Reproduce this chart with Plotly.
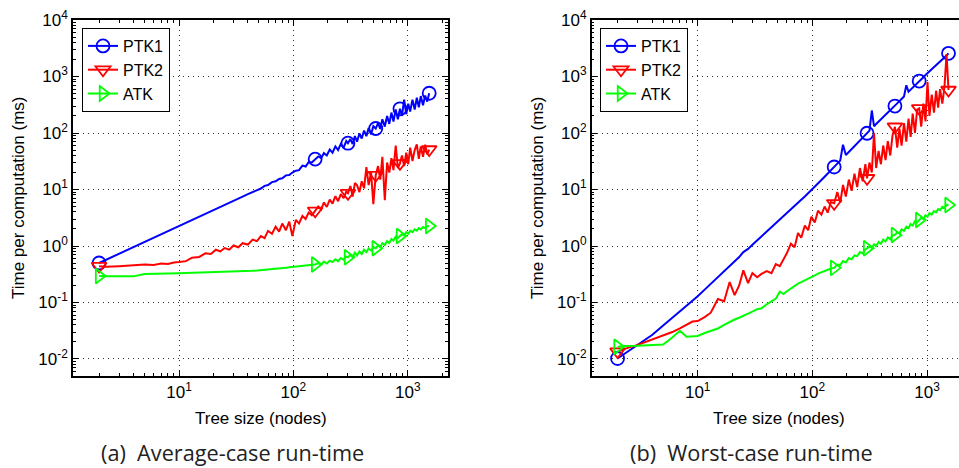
import plotly.graph_objects as go

W, H = 959, 468

# ---------------- data ----------------
tree_size = [2, 2.3, 3, 4, 5, 6, 7, 8, 9, 10,
             11.5, 13, 15, 17, 19, 21, 23, 25, 27.5, 30,
             33, 36, 40, 44, 48, 52, 56, 60, 65, 70,
             75, 80, 86, 92, 98, 105, 112, 120, 128, 136,
             145, 155, 165, 175, 185, 196, 208, 220, 233, 246,
             260, 275, 290, 300, 315, 330, 345, 360, 378, 396,
             415, 435, 455, 478, 500, 525, 550, 575, 600, 630,
             660, 690, 720, 750, 785, 820, 855, 890, 930, 970,
             1010, 1050, 1100, 1150, 1200, 1250, 1300, 1360, 1420, 1480,
             1540]
marker_sizes = [2, 155, 300, 525, 855, 1540]

avg_ptk1 = [0.50, 0.57, 0.73, 0.95, 1.16, 1.38, 1.59, 1.79, 2.0, 2.19,
            2.5, 2.81, 3.23, 3.64, 4.06, 4.46, 4.87, 5.27, 5.77, 6.28,
            6.89, 7.48, 8.3, 9.0, 10.0, 10.4, 11.6, 12.0, 13.5, 14.0,
            15.4, 15.8, 17.8, 18.0, 20.0, 21.5, 22.0, 26.5, 25.5, 30.5,
            30.0, 34.5, 38.5, 36.0, 44, 40, 51, 45, 58, 50,
            64, 55, 72, 66, 78, 64, 88, 70, 98, 80,
            110, 88, 122, 95, 132, 120, 150, 118, 175, 130,
            200, 145, 230, 160, 260, 175, 268, 200, 390, 215,
            330, 240, 390, 260, 420, 285, 450, 310, 460, 360,
            505]
avg_ptk2 = [0.44, 0.43, 0.44, 0.45, 0.47, 0.46, 0.49, 0.48, 0.51, 0.52,
            0.54, 0.62, 0.64, 0.74, 0.72, 0.86, 0.80, 0.92, 0.86, 1.02,
            0.95, 1.12, 1.06, 1.3, 1.22, 1.5, 1.38, 1.85, 1.65, 2.2,
            1.8, 2.5, 1.9, 2.7, 1.5, 2.9, 2.5, 3.4, 3.0, 3.9,
            3.5, 4.2, 5.0, 4.4, 5.9, 4.9, 6.6, 5.6, 7.6, 6.2,
            8.3, 7.0, 9.2, 8.6, 11.5, 7.5, 13, 12, 9.0, 14,
            10.5, 25, 12, 20, 5.5, 18, 26, 15, 38, 6.5,
            30, 20, 36, 22, 60, 24, 29, 40, 26, 45,
            28, 55, 32, 50, 63, 35, 58, 38, 62, 42,
            51]
avg_atk = [0.295, 0.29, 0.29, 0.29, 0.32, 0.325, 0.325, 0.33, 0.33, 0.33,
           0.332, 0.334, 0.336, 0.338, 0.34, 0.342, 0.344, 0.346, 0.348, 0.35,
           0.353, 0.356, 0.36, 0.364, 0.368, 0.372, 0.376, 0.38, 0.385, 0.39,
           0.395, 0.40, 0.41, 0.42, 0.425, 0.43, 0.435, 0.44, 0.45, 0.455,
           0.46, 0.47, 0.50, 0.47, 0.53, 0.49, 0.55, 0.52, 0.58, 0.54,
           0.61, 0.57, 0.65, 0.63, 0.70, 0.63, 0.76, 0.68, 0.80, 0.72,
           0.86, 0.78, 0.90, 0.83, 0.95, 0.91, 1.02, 0.95, 1.12, 1.04,
           1.22, 1.13, 1.33, 1.25, 1.46, 1.38, 1.5, 1.62, 1.53, 1.75,
           1.65, 1.86, 1.76, 1.98, 1.87, 2.08, 1.97, 2.17, 2.08, 2.24,
           2.26]

worst_ptk1 = [0.0102, 0.0124, 0.0179, 0.0266, 0.039, 0.0532, 0.069, 0.087, 0.106, 0.129,
              0.169, 0.213, 0.281, 0.356, 0.443, 0.535, 0.638, 0.78, 0.89, 1.05,
              1.26, 1.48, 1.80, 2.15, 2.53, 2.94, 3.37, 3.84, 4.47, 5.13,
              5.83, 6.58, 7.52, 8.55, 9.6, 11.1, 12.7, 14.7, 16.8, 19.1,
              21.9, 25, 28.6, 32.4, 62, 40.8, 46.2, 51.9, 58.4, 65.5,
              73.4, 82.3, 91.8, 99, 110, 250, 132, 144, 158, 175,
              191, 210, 230, 253, 278, 300, 333, 366, 400, 443,
              700, 537, 586, 640, 705, 771, 830, 896, 973, 1059,
              1140, 1228, 1340, 1462, 1581, 1713, 1845, 2013, 2178, 2357,
              2570]
worst_ptk2 = [0.0135, 0.0151, 0.0178, 0.0219, 0.0257, 0.030, 0.0347, 0.040, 0.046, 0.047,
              0.055, 0.066, 0.115, 0.105, 0.23, 0.135, 0.20, 0.37, 0.22, 0.33,
              0.28, 0.32, 0.36, 0.33, 0.48, 0.44, 0.58, 0.75, 1.1, 0.95,
              1.7, 1.4, 2.3, 1.9, 3.3, 2.6, 4.2, 3.6, 5.0, 3.9,
              6.0, 5.7, 9.0, 5.8, 12, 7.5, 15, 9.5, 19, 11,
              24, 14, 28, 15.8, 30, 20, 100, 24, 48, 28,
              60, 33, 72, 40, 90, 129, 55, 120, 60, 150,
              70, 180, 85, 220, 100, 260, 273, 130, 330, 160,
              800, 200, 480, 230, 560, 280, 600, 330, 650, 2500,
              577]
worst_atk = [0.0165, 0.017, 0.0172, 0.0175, 0.018, 0.024, 0.0316, 0.0248, 0.025, 0.0255,
             0.0288, 0.0316, 0.0347, 0.040, 0.0457, 0.050, 0.0537, 0.0575, 0.063, 0.069,
             0.076, 0.079, 0.093, 0.105, 0.117, 0.155, 0.141, 0.158, 0.178, 0.20,
             0.216, 0.229, 0.245, 0.266, 0.282, 0.302, 0.324, 0.343, 0.363, 0.385,
             0.40, 0.41, 0.47, 0.46, 0.54, 0.51, 0.61, 0.58, 0.68, 0.66,
             0.78, 0.74, 0.87, 0.91, 0.98, 0.92, 1.07, 1.0, 1.18, 1.1,
             1.3, 1.2, 1.42, 1.32, 1.55, 1.57, 1.75, 1.66, 1.97, 1.85,
             2.2, 2.08, 2.45, 2.3, 2.75, 2.6, 2.88, 3.15, 3.0, 3.5,
             3.3, 3.8, 3.6, 4.15, 3.95, 4.5, 4.3, 4.95, 4.75, 5.35,
             5.3]

series_names = ["PTK1", "PTK2", "ATK"]
x_tick_vals = [10, 100, 1000]
x_tick_text = ["10<sup>1</sup>", "10<sup>2</sup>", "10<sup>3</sup>"]
y_tick_vals = [0.01, 0.1, 1, 10, 100, 1000, 10000]
y_tick_text = ["10<sup>-2</sup>", "10<sup>-1</sup>", "10<sup>0</sup>", "10<sup>1</sup>",
               "10<sup>2</sup>", "10<sup>3</sup>", "10<sup>4</sup>"]
captions = ["(a)  Average-case run-time", "(b)  Worst-case run-time"]

# ---------------- styling ----------------
colors = ["#0000ff", "#ff0000", "#00ff00"]
symbols = ["circle-open", "triangle-down-open", "triangle-right-open"]
SANS = "Liberation Sans, Arial, sans-serif"
TICKFONT = dict(family=SANS, size=17, color="black")

fig = go.Figure()


def add_series(y, k, xa, ya, legend):
    mcol = [colors[k] if x in marker_sizes else "rgba(0,0,0,0)" for x in tree_size]
    fig.add_trace(go.Scatter(
        x=tree_size, y=y, name=series_names[k], mode="lines+markers",
        line=dict(color=colors[k], width=2),
        marker=dict(symbol=symbols[k], size=13, color=mcol,
                    line=dict(width=1.8, color=mcol)),
        xaxis=xa, yaxis=ya, legend=legend))


for k, ys in enumerate([avg_ptk1, avg_ptk2, avg_atk]):
    add_series(ys, k, "x", "y", "legend")
for k, ys in enumerate([worst_ptk1, worst_ptk2, worst_atk]):
    add_series(ys, k, "x2", "y2", "legend2")

# pixel geometry
L1, R1 = 73, 448
L2, R2 = 591.7, 959
TOP, BOT = 20, 376
ydom = [1 - BOT / H, 1 - TOP / H]


def xstyle(dom, rng, anchor):
    return dict(type="log", domain=dom, range=rng, anchor=anchor, automargin=False,
                showline=True, linecolor="black", linewidth=1.5, mirror="ticks",
                ticks="inside", ticklen=6, tickwidth=1, tickcolor="black",
                tickmode="array", tickvals=x_tick_vals, ticktext=x_tick_text,
                showgrid=True, gridcolor="#333", griddash="1px,4px", gridwidth=1,
                minor=dict(ticks="inside", ticklen=3, tickcolor="black", dtick="D1",
                           showgrid=False),
                zeroline=False, tickfont=TICKFONT)


def ystyle(anchor, mirror):
    return dict(type="log", domain=ydom, range=[-2.301, 4], anchor=anchor, automargin=False,
                showline=True, linecolor="black", linewidth=1.5, mirror=mirror,
                ticks="inside", ticklen=6, tickwidth=1, tickcolor="black",
                tickmode="array", tickvals=y_tick_vals, ticktext=y_tick_text,
                showgrid=True, gridcolor="#333", griddash="1px,4px", gridwidth=1,
                minor=dict(ticks="inside", ticklen=3, tickcolor="black", dtick="D1",
                           showgrid=False),
                zeroline=False, tickfont=TICKFONT)


legend_common = dict(xanchor="left", yanchor="top", bordercolor="black", borderwidth=1,
                     bgcolor="white", font=dict(family=SANS, size=16, color="black"),
                     tracegroupgap=0, itemwidth=30, entrywidth=60, entrywidthmode="pixels")

fig.update_layout(
    template="none",
    width=W, height=H, margin=dict(l=0, r=0, t=0, b=0, autoexpand=False),
    paper_bgcolor="white", plot_bgcolor="white", showlegend=True,
    xaxis=xstyle([L1 / W, R1 / W], [0.073, 3.352], "y"),
    yaxis=ystyle("x", "ticks"),
    xaxis2=xstyle([L2 / W, R2 / W], [0.0755, 3.279], "y2"),
    yaxis2=ystyle("x2", False),
    legend=dict(x=82 / W, y=1 - 28 / H, **legend_common),
    legend2=dict(x=600 / W, y=1 - 28 / H, **legend_common),
)

ann = []
AXFONT = dict(family=SANS, size=17, color="black")
for cx in [(L1 + R1) / 2, 779]:
    ann.append(dict(x=cx / W, y=1 - 418 / H, xref="paper", yref="paper",
                    text="Tree size (nodes)", showarrow=False, font=AXFONT,
                    xanchor="center", yanchor="middle"))
for cx in [18, 537]:
    ann.append(dict(x=cx / W, y=1 - 198 / H, xref="paper", yref="paper",
                    text="Time per computation (ms)", showarrow=False, font=AXFONT,
                    textangle=-90, xanchor="center", yanchor="middle"))
for cx, txt in zip([232, 751], captions):
    ann.append(dict(x=cx / W, y=1 - 452 / H, xref="paper", yref="paper",
                    text=txt, showarrow=False,
                    font=dict(family="Open Sans, Noto Sans, sans-serif", size=21.7, color="#222"),
                    xanchor="center", yanchor="middle"))
fig.update_layout(annotations=ann)

fig.write_html("out.html", config={"displayModeBar": False},
               post_script="document.body.style.margin='0px';document.body.style.overflow='hidden';")
